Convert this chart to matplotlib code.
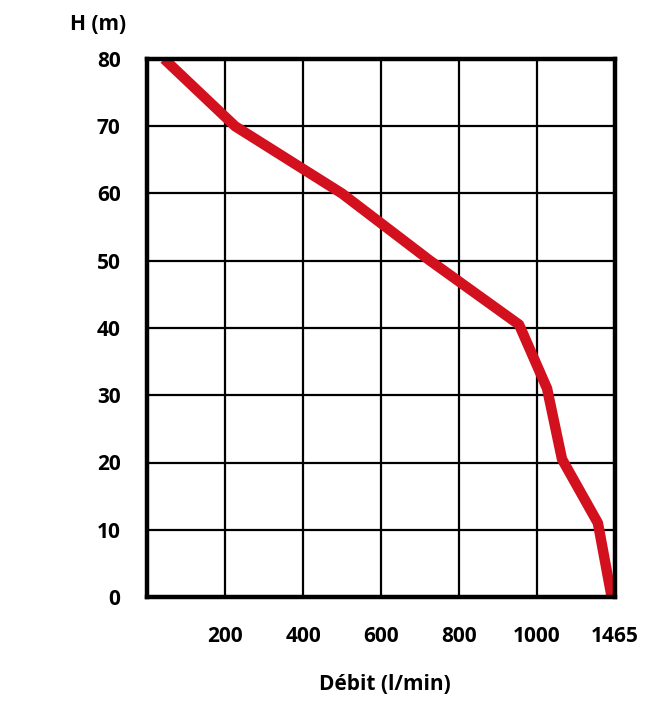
import numpy as np
import matplotlib
matplotlib.use("Agg")
import matplotlib.pyplot as plt

# pump curve
debit = [44, 226, 500, 726, 954, 1060, 1149, 1363, 1445]
hauteur = [80, 70, 60, 50, 40.5, 31, 20.5, 11, 0]

# the x axis is drawn with equal spacing between these ticks
x_ticks = [0, 200, 400, 600, 800, 1000, 1465]
x_labels = ["", "200", "400", "600", "800", "1000", "1465"]
y_ticks = [0, 10, 20, 30, 40, 50, 60, 70, 80]

pos = np.arange(len(x_ticks))


def fwd(x):
    return np.interp(x, x_ticks, pos)


def inv(p):
    return np.interp(p, pos, x_ticks)


plt.rcParams["font.family"] = ["Open Sans", "DejaVu Sans"]
FS = 15

fig = plt.figure(figsize=(6.51, 7.04), dpi=100)
ax = fig.add_axes([147 / 651, 107 / 704, 468 / 651, 538 / 704])
ax.set_xscale("function", functions=(fwd, inv))
ax.set_xlim(0, 1465)
ax.set_ylim(0, 80)

ax.plot(debit, hauteur, color="#d2101e", lw=7.5, solid_capstyle="butt",
        solid_joinstyle="round", zorder=3)

ax.set_xticks(x_ticks)
ax.set_xticklabels(x_labels)
ax.set_yticks(y_ticks)
ax.grid(True, color="black", lw=1.6)
ax.tick_params(length=0, labelsize=FS)
ax.tick_params(axis="x", pad=21)
ax.tick_params(axis="y", pad=19)
for lab in ax.get_xticklabels() + ax.get_yticklabels():
    lab.set_fontweight("bold")
for s in ax.spines.values():
    s.set_linewidth(3.2)
    s.set_zorder(4)

fig.text(98 / 651, 1 - 25 / 704, "H (m)", ha="center", va="center",
         fontsize=FS, fontweight="bold")
fig.text(385 / 651, 1 - 685 / 704, "Débit (l/min)", ha="center", va="center",
         fontsize=FS, fontweight="bold")

fig.savefig("out.png", dpi=100)
